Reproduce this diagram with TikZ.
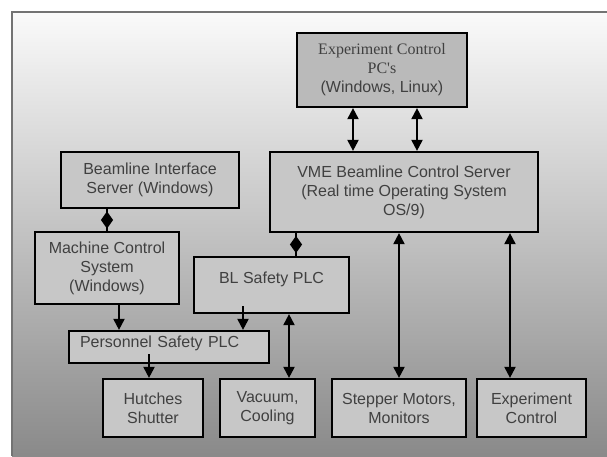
\documentclass[tikz,border=0pt]{standalone}
\usepackage{fontspec}
\setmainfont{Liberation Sans}
\newfontfamily\pcfont{Liberation Serif}
\usepackage{tikz}
\usetikzlibrary{arrows.meta,shapes.geometric}

\tikzset{
  box/.style={draw=black, line width=2.2pt, fill=black!22, text=black!75,
    align=center, inner sep=0pt, font=\fontsize{16}{19}\selectfont},
  dmd/.style={diamond, fill=black, inner sep=0pt, minimum width=13pt, minimum height=18pt},
  link/.style={line width=2pt},
  arr/.style={link, -{Triangle[length=11pt,width=11pt]}},
  dbl/.style={link, {Triangle[length=11pt,width=11pt]}-{Triangle[length=11pt,width=11pt]}},
}

\begin{document}
\begin{tikzpicture}[x=1pt,y=-1pt]
  \useasboundingbox (0,0) rectangle (607,456);

  % Background and frame
  \shade[top color=black!2, middle color=black!16, bottom color=black!46] (12,12) rectangle (607,456);
  \draw[black!55, line width=1.8pt] (12,456) -- (12,12) -- (607,12);

  % Top boxes
  \node[box, fill=black!27, minimum width=170pt, minimum height=74pt] (pcs) at (382,70)
    {{\pcfont Experiment Control}\\{\pcfont PC's}\\(Windows, Linux)};
  \node[box, minimum width=178pt, minimum height=56pt] (bis) at (150,180)
    {Beamline Interface\\Server (Windows)};
  \node[box, minimum width=268pt, minimum height=80pt] (vme) at (404,192)
    {VME Beamline Control Server\\(Real time Operating System\\OS/9)};

  % Middle boxes
  \node[box, minimum width=144pt, minimum height=72pt] (mcs) at (107,268)
    {Machine Control\\System\\(Windows)};
  \node[box, minimum width=155pt, text height=26pt, text depth=30pt] (bl) at (271.5,285)
    {BL Safety PLC};
  \node[box, minimum width=200pt, text width=178pt, text height=16pt, text depth=16pt, align=left] (pers) at (169,347)
    {Personnel Safety PLC};

  % Bottom row
  \foreach \nm/\cx/\w/\txt in {{hut/153/100/Hutches\\Shutter},{vac/267.5/95/Vacuum,\\Cooling},
      {motors/399/134/Stepper Motors,\\Monitors},{exc/531.5/109/Experiment\\Control}} {
    \node[box, minimum width=\w pt, minimum height=58pt] (\nm) at (\cx,408) {\txt};
  }

  % Connectors
  \draw[dbl] ([xshift=-29pt]pcs.south) -- ([xshift=-29pt]pcs.south |- vme.north);
  \draw[dbl] ([xshift=35pt]pcs.south) -- ([xshift=35pt]pcs.south |- vme.north);
  \draw[link] (bis.south -| mcs.north) -- node[dmd]{} (mcs.north);
  \draw[link] ([xshift=24.5pt]bl.north) -- node[dmd]{} ([xshift=24.5pt]bl.north |- vme.south);
  \draw[arr] ([xshift=12pt]mcs.south) -- ([xshift=12pt]mcs.south |- pers.north);
  \draw[arr] ([xshift=-28.5pt,yshift=8pt]bl.south) -- ([xshift=-28.5pt]bl.south |- pers.north);
  \draw[arr] ([xshift=-20pt,yshift=10pt]pers.south) -- ([xshift=-20pt]pers.south |- hut.north);
  \draw[dbl] ([xshift=21.5pt]vac.north |- bl.south) -- ([xshift=21.5pt]vac.north);
  \draw[dbl] (motors.north |- vme.south) -- (motors.north);
  \draw[dbl] ([xshift=-21.5pt]exc.north |- vme.south) -- ([xshift=-21.5pt]exc.north);
\end{tikzpicture}
\end{document}
